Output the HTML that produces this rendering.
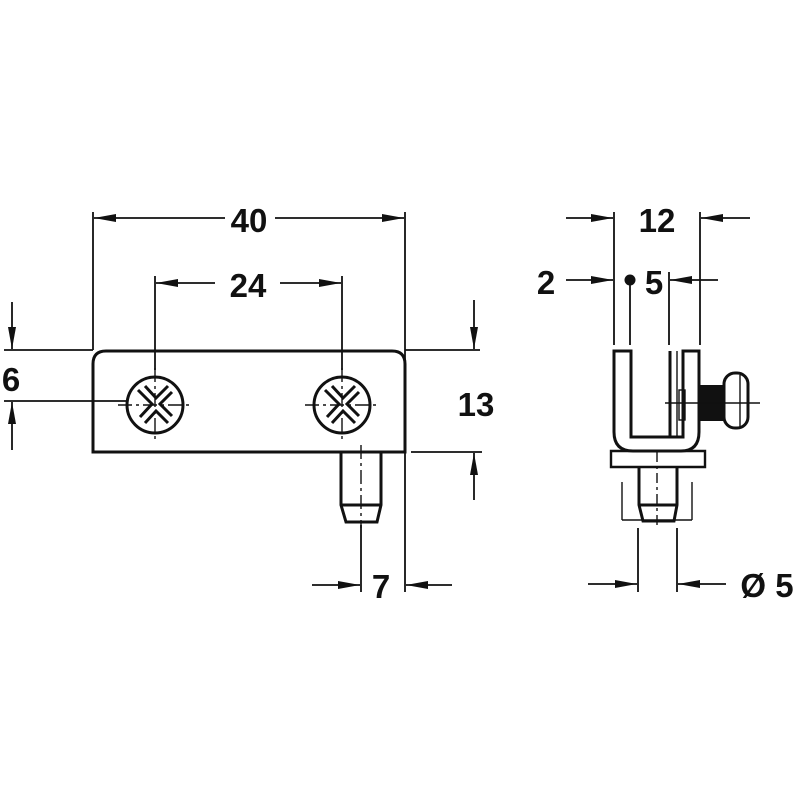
<!DOCTYPE html>
<html><head><style>html,body{margin:0;padding:0;background:#fff}svg{display:block}</style></head>
<body>
<svg width="800" height="800" viewBox="0 0 800 800" xmlns="http://www.w3.org/2000/svg">
<defs>
<marker id="a" viewBox="0 0 10 10" preserveAspectRatio="none" refX="10" refY="5" markerWidth="22" markerHeight="10" markerUnits="userSpaceOnUse" orient="auto"><path d="M0,1 L10,5 L0,9 z" fill="#111"/></marker>
</defs>
<g stroke="#111" fill="none" stroke-width="1.8">
<line x1="93" y1="212" x2="93" y2="350"/>
<line x1="405" y1="212" x2="405" y2="592"/>
<line x1="155" y1="276" x2="155" y2="370"/>
<line x1="342" y1="276" x2="342" y2="370"/>
<line x1="4" y1="350" x2="93" y2="350"/>
<line x1="4" y1="401" x2="128" y2="401"/>
<line x1="405" y1="350" x2="480" y2="350"/>
<line x1="411" y1="452" x2="482" y2="452"/>
<line x1="361" y1="525" x2="361" y2="592"/>
<line x1="225" y1="218" x2="94" y2="218" marker-end="url(#a)"/>
<line x1="275" y1="218" x2="404" y2="218" marker-end="url(#a)"/>
<line x1="215" y1="283" x2="156" y2="283" marker-end="url(#a)"/>
<line x1="280" y1="283" x2="341" y2="283" marker-end="url(#a)"/>
<line x1="12" y1="302" x2="12" y2="349" marker-end="url(#a)"/>
<line x1="12" y1="450" x2="12" y2="402" marker-end="url(#a)"/>
<line x1="474" y1="300" x2="474" y2="349" marker-end="url(#a)"/>
<line x1="474" y1="500" x2="474" y2="453" marker-end="url(#a)"/>
<line x1="312" y1="585" x2="360" y2="585" marker-end="url(#a)"/>
<line x1="452" y1="585" x2="406" y2="585" marker-end="url(#a)"/>
<line x1="614" y1="212" x2="614" y2="345"/>
<line x1="700" y1="212" x2="700" y2="345"/>
<line x1="669" y1="272" x2="669" y2="345"/>
<line x1="630" y1="280" x2="630" y2="345"/>
<line x1="566" y1="218" x2="613" y2="218" marker-end="url(#a)"/>
<line x1="750" y1="218" x2="701" y2="218" marker-end="url(#a)"/>
<line x1="566" y1="280" x2="613" y2="280" marker-end="url(#a)"/>
<line x1="718" y1="280" x2="670" y2="280" marker-end="url(#a)"/>
<line x1="638" y1="528" x2="638" y2="592"/>
<line x1="677" y1="528" x2="677" y2="592"/>
<line x1="588" y1="584" x2="637" y2="584" marker-end="url(#a)"/>
<line x1="726" y1="584" x2="678" y2="584" marker-end="url(#a)"/>
</g>
<circle cx="630" cy="280" r="5.5" fill="#111"/>
<g stroke="#111" fill="none" stroke-width="3">
<path d="M93,452 L93,364 Q93,351 106,351 L392,351 Q405,351 405,364 L405,452 Z"/>
<circle cx="155" cy="405" r="28"/>
<circle cx="342" cy="405" r="28"/>
<path d="M341,452 L341,505 L346,522 L377,522 L381,505 L381,452 M341,505 L381,505"/>
</g>
<g stroke="#111" fill="none" stroke-width="3">
<path d="M138,390 L152,404 L140,417 M145,386 L156,398 L168,386 M172,392 L160,404 L172,416 M145,423 L156,411 L168,423"/>
<path d="M325,390 L339,404 L327,417 M332,386 L343,398 L355,386 M359,392 L347,404 L359,416 M332,423 L343,411 L355,423"/>
</g>
<g stroke="#111" stroke-width="1.4" stroke-dasharray="14,4,3,4">
<line x1="118" y1="405" x2="192" y2="405"/>
<line x1="155" y1="368" x2="155" y2="440"/>
<line x1="305" y1="405" x2="379" y2="405"/>
<line x1="342" y1="368" x2="342" y2="440"/>
<line x1="361" y1="445" x2="361" y2="528"/>
</g>
<g stroke="#111" fill="none" stroke-width="3">
<path d="M614,351 L614,432 Q614,451 633,451 L681,451 Q699,451 699,432 L699,351 L683,351 L683,437 L631,437 L631,351 Z"/>
<line x1="670" y1="351" x2="670" y2="437"/>
<path d="M611,451 L705,451 L705,467 L611,467 Z" stroke-width="2.4"/>
<path d="M639,467 L639,505 L643,521 L674,521 L677,505 L677,467 M639,505 L677,505"/>
<rect x="724" y="373" width="24" height="55" rx="11"/>
</g>
<rect x="700" y="385" width="25" height="36" fill="#111"/>
<g stroke="#111" fill="none" stroke-width="1.4">
<line x1="677" y1="351" x2="677" y2="437"/>
<line x1="622" y1="482" x2="622" y2="520"/><line x1="622" y1="520" x2="692" y2="520"/><line x1="692" y1="482" x2="692" y2="520"/>
<rect x="679" y="390" width="6" height="30"/>
<line x1="665" y1="403" x2="760" y2="403"/>
<line x1="740" y1="375" x2="740" y2="428"/>
</g>
<g stroke="#111" stroke-width="1.4" stroke-dasharray="10,4,3,4">
<line x1="657" y1="452" x2="657" y2="528"/>
<line x1="620" y1="467" x2="695" y2="467"/>
</g>
<g font-family="Liberation Sans, sans-serif" font-weight="bold" font-size="33" fill="#111" text-anchor="middle">
<text x="249" y="232">40</text>
<text x="248" y="297">24</text>
<text x="11" y="391">6</text>
<text x="476" y="416">13</text>
<text x="381" y="598">7</text>
<text x="657" y="232">12</text>
<text x="546" y="294">2</text>
<text x="654" y="294">5</text>
<text x="767" y="597">Ø 5</text>
</g>
</svg>
</body></html>
